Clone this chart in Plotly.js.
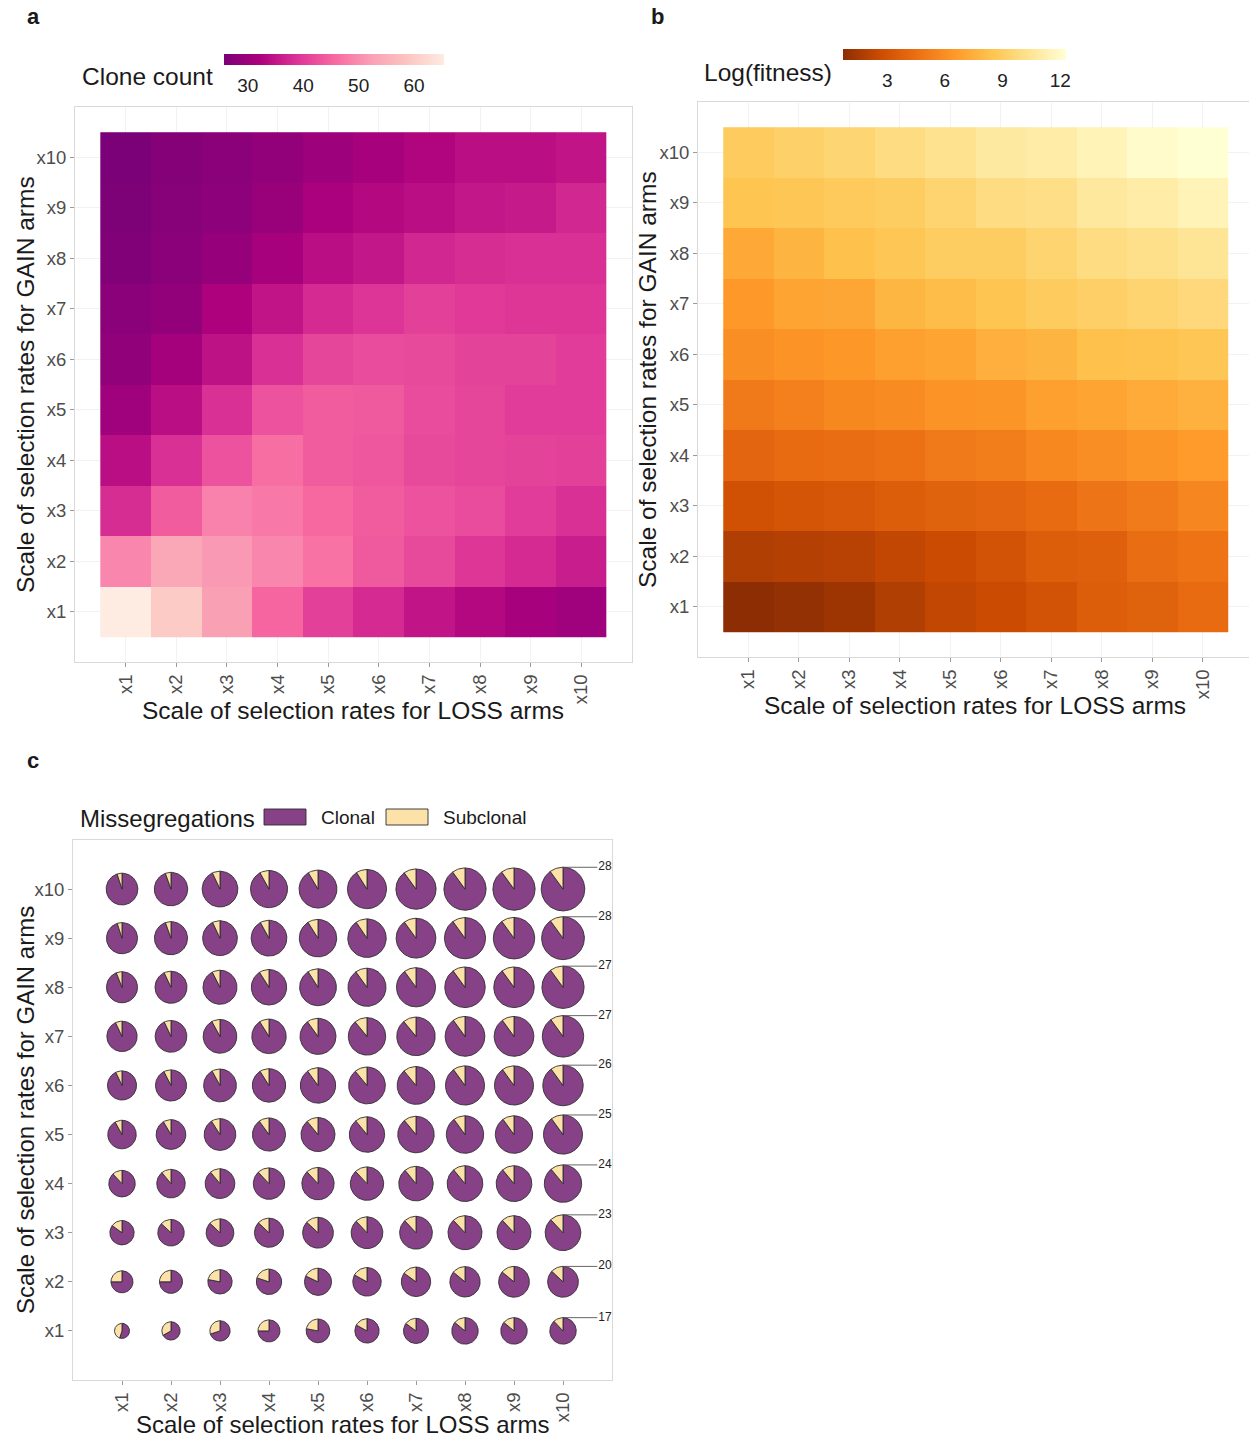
<!DOCTYPE html>
<html><head><meta charset="utf-8">
<script src="https://cdn.plot.ly/plotly-3.0.1.min.js"></script>
<style>html,body{margin:0;padding:0;background:#fff}#chart{width:1249px;height:1439px}</style>
</head><body><div id="chart"></div>
<script>
// ---------------- data ----------------
const scaleLabels = ['x1','x2','x3','x4','x5','x6','x7','x8','x9','x10'];

// rows: GAIN scale x1 (bottom) .. x10 (top); columns: LOSS scale x1 .. x10
const cloneCount = [
  [65.4, 59.8, 52.3, 45.2, 40.4, 37.6, 34.8, 33.2, 31.6, 30.5],
  [49.1, 53.5, 51.5, 49.1, 46.7, 43.6, 41.6, 39.2, 37.6, 36.0],
  [38.0, 44.0, 48.7, 47.5, 45.5, 44.0, 42.8, 42.0, 40.0, 38.4],
  [34.0, 38.4, 42.8, 46.3, 44.0, 43.2, 41.6, 41.2, 40.8, 40.4],
  [30.5, 34.0, 38.4, 42.8, 44.0, 43.6, 42.0, 41.2, 40.0, 40.0],
  [28.5, 31.3, 34.4, 38.4, 41.2, 42.0, 41.6, 40.8, 40.8, 40.0],
  [27.7, 28.9, 32.3, 34.8, 37.6, 38.9, 40.4, 39.6, 39.2, 39.2],
  [26.5, 27.7, 29.3, 31.6, 34.0, 35.2, 37.2, 38.0, 38.4, 38.4],
  [26.1, 27.3, 28.1, 29.7, 32.0, 33.2, 34.0, 35.2, 35.6, 37.2],
  [25.7, 27.0, 27.7, 28.9, 30.1, 31.6, 32.8, 34.0, 34.0, 34.8]
];

const logFitness = [
  [0.7, 0.9, 1.2, 1.8, 2.3, 2.6, 3.0, 3.6, 3.8, 4.3],
  [1.8, 1.9, 2.0, 2.3, 2.6, 3.0, 3.6, 3.7, 4.4, 4.7],
  [2.9, 3.1, 3.3, 3.6, 3.8, 4.0, 4.3, 4.8, 5.1, 5.6],
  [4.0, 4.3, 4.4, 4.6, 5.0, 5.2, 5.7, 6.0, 6.3, 6.6],
  [5.0, 5.3, 5.7, 5.9, 6.2, 6.3, 6.8, 7.0, 7.3, 7.6],
  [6.0, 6.2, 6.4, 6.8, 7.0, 7.5, 7.7, 8.3, 8.4, 8.6],
  [6.5, 7.0, 7.1, 7.8, 8.1, 8.5, 8.9, 9.1, 9.4, 9.7],
  [7.2, 7.7, 8.3, 8.6, 9.0, 9.0, 9.4, 9.9, 10.2, 10.5],
  [8.5, 8.6, 8.8, 9.0, 9.4, 9.9, 10.1, 10.7, 11.0, 11.5],
  [8.9, 9.2, 9.5, 9.9, 10.3, 10.8, 11.0, 11.5, 12.0, 12.3]
];

// total missegregations per pie (pie size)
const missTotal = [
  [9.8, 11.9, 13.2, 14.3, 15.4, 15.8, 16.3, 17.2, 17.2, 17.2],
  [14.3, 15.0, 15.8, 16.5, 17.6, 18.5, 19.1, 19.7, 20.0, 20.0],
  [15.8, 17.2, 18.0, 18.9, 20.0, 20.6, 21.3, 22.1, 22.1, 23.2],
  [17.2, 18.5, 19.3, 20.4, 21.0, 21.7, 22.4, 23.2, 23.2, 24.3],
  [18.5, 19.3, 20.6, 21.5, 22.1, 23.0, 23.7, 24.3, 24.3, 25.4],
  [18.9, 20.2, 21.3, 21.7, 23.0, 23.9, 24.5, 25.4, 25.4, 26.3],
  [19.7, 20.6, 21.9, 22.4, 23.4, 24.3, 25.0, 25.8, 25.8, 26.9],
  [20.2, 20.8, 22.1, 23.0, 23.9, 24.7, 25.4, 26.3, 26.3, 27.4],
  [20.2, 21.5, 22.6, 23.2, 24.3, 25.0, 25.8, 26.7, 26.9, 27.8],
  [20.6, 21.7, 23.2, 24.1, 24.6, 25.4, 26.1, 27.4, 27.4, 28.3]
];

// share of subclonal missegregations in each pie
const subclonalShare = [
  [0.45, 0.33, 0.30, 0.25, 0.22, 0.17, 0.15, 0.14, 0.14, 0.12],
  [0.25, 0.25, 0.22, 0.20, 0.18, 0.17, 0.15, 0.14, 0.14, 0.13],
  [0.15, 0.13, 0.13, 0.13, 0.13, 0.12, 0.12, 0.12, 0.12, 0.12],
  [0.12, 0.11, 0.11, 0.12, 0.12, 0.12, 0.11, 0.11, 0.11, 0.11],
  [0.08, 0.085, 0.09, 0.10, 0.11, 0.11, 0.11, 0.10, 0.10, 0.10],
  [0.07, 0.075, 0.08, 0.09, 0.10, 0.11, 0.11, 0.10, 0.10, 0.10],
  [0.07, 0.07, 0.08, 0.09, 0.10, 0.11, 0.11, 0.10, 0.10, 0.10],
  [0.06, 0.07, 0.075, 0.09, 0.09, 0.10, 0.10, 0.10, 0.10, 0.10],
  [0.05, 0.055, 0.07, 0.08, 0.09, 0.095, 0.10, 0.10, 0.10, 0.10],
  [0.05, 0.055, 0.07, 0.08, 0.085, 0.09, 0.10, 0.10, 0.10, 0.10]
];

// ---------------- styles ----------------
const W = 1249, H = 1439;
const px = v => v / W, py = v => 1 - v / H;
const FONT = 'Liberation Sans, Arial, Helvetica, sans-serif';
const TXT = '#1a1a1a';
const CLONAL = '#864187', SUBCLONAL = '#FCE1A8', PIE_LINE = '#2e2e2e';
const rdpu = [[0,'#7A0177'],[1/6,'#AE017E'],[2/6,'#DD3497'],[3/6,'#F768A1'],[4/6,'#FA9FB5'],[5/6,'#FCC5C0'],[1,'#FEEBE2']];
const ylorbr = [[0,'#8C2D04'],[1/6,'#CC4C02'],[2/6,'#EC7014'],[3/6,'#FE9929'],[4/6,'#FEC44F'],[5/6,'#FEE391'],[1,'#FFFFD4']];
const idx = scaleLabels.map((_, i) => i);
const flat = a => a.reduce((s, r) => s.concat(r), []);

function axis(d0, d1, range, extra) {
  return Object.assign({
    domain: [d0, d1], range: range, tickmode: 'array', tickvals: idx, ticktext: scaleLabels,
    showline: true, mirror: true, linecolor: '#d9d9d9', linewidth: 1,
    ticks: 'outside', ticklen: 4, tickcolor: '#9a9a9a', tickwidth: 1,
    tickfont: {family: FONT, size: 18.5, color: '#4d4d4d'},
    zeroline: false, showgrid: false, fixedrange: true
  }, extra || {});
}

function cbar(cx, top, len, vals) {
  return {
    orientation: 'h', x: px(cx), xanchor: 'center', y: py(top), yanchor: 'top',
    len: len, lenmode: 'pixels', thickness: 11, thicknessmode: 'pixels',
    xpad: 0, ypad: 0, outlinewidth: 0, tickmode: 'array', tickvals: vals,
    ticks: 'outside', ticklen: 5, tickcolor: 'rgba(0,0,0,0)',
    tickfont: {family: FONT, size: 19, color: '#222'}
  };
}

// ---------------- traces ----------------
const data = [];
const zA = flat(cloneCount), zB = flat(logFitness);
data.push({
  type: 'heatmap', x: idx, y: idx, z: cloneCount, xaxis: 'x', yaxis: 'y',
  colorscale: rdpu, zmin: Math.min(...zA), zmax: Math.max(...zA),
  colorbar: cbar(334, 54, 220, [30, 40, 50, 60]), hoverinfo: 'skip'
});
data.push({
  type: 'heatmap', x: idx, y: idx, z: logFitness, xaxis: 'x2', yaxis: 'y2',
  colorscale: ylorbr, zmin: Math.min(...zB), zmax: Math.max(...zB),
  colorbar: cbar(954.5, 49, 223, [3, 6, 9, 12]), hoverinfo: 'skip'
});

// pies in panel c
const K = 0.0157; // radius (axis units) per missegregation
function wedge(xs, ys, cx, cy, r, a0, a1) {
  const n = Math.max(2, Math.ceil((a1 - a0) / 3));
  xs.push(cx); ys.push(cy);
  for (let k = 0; k <= n; k++) {
    const a = (a0 + (a1 - a0) * k / n) * Math.PI / 180;
    xs.push(cx + r * Math.cos(a)); ys.push(cy + r * Math.sin(a));
  }
  xs.push(cx); ys.push(cy);
  xs.push(null); ys.push(null);
}
const cX = [], cY = [], sX = [], sY = [];
missTotal.forEach((row, i) => row.forEach((tot, j) => {
  const r = K * tot, f = subclonalShare[i][j];
  wedge(sX, sY, j, i, r, 90, 90 + 360 * f);
  wedge(cX, cY, j, i, r, 90 + 360 * f, 450);
}));
data.push({type: 'scatter', x: cX, y: cY, xaxis: 'x3', yaxis: 'y3', mode: 'lines', fill: 'toself',
  fillcolor: CLONAL, line: {color: PIE_LINE, width: 0.9}, hoverinfo: 'skip', showlegend: false, name: 'Clonal'});
data.push({type: 'scatter', x: sX, y: sY, xaxis: 'x3', yaxis: 'y3', mode: 'lines', fill: 'toself',
  fillcolor: SUBCLONAL, line: {color: PIE_LINE, width: 0.9}, hoverinfo: 'skip', showlegend: false, name: 'Subclonal'});

// size labels for the last column
const lX = [], lY = [], tX = [], tY = [], tT = [];
const last = scaleLabels.length - 1;
missTotal.forEach((row, i) => {
  const top = i + K * row[last];
  lX.push(last, last + 0.7, null); lY.push(top, top, null);
  tX.push(last + 0.72); tY.push(top); tT.push(String(Math.round(row[last])));
});
data.push({type: 'scatter', x: lX, y: lY, xaxis: 'x3', yaxis: 'y3', mode: 'lines',
  line: {color: '#555', width: 0.9}, hoverinfo: 'skip', showlegend: false});
data.push({type: 'scatter', x: tX, y: tY, xaxis: 'x3', yaxis: 'y3', mode: 'text', text: tT,
  textposition: 'middle right', textfont: {family: FONT, size: 12, color: '#222'},
  hoverinfo: 'skip', showlegend: false, cliponaxis: false});

// ---------------- layout ----------------
function ann(text, x, y, size, extra) {
  return Object.assign({text: text, x: px(x), y: py(y), xref: 'paper', yref: 'paper',
    showarrow: false, xanchor: 'center', yanchor: 'middle',
    font: {family: FONT, size: size, color: TXT}}, extra || {});
}
const titleSize = 24.5;
const annotations = [
  ann('<b>a</b>', 33, 17, 22), ann('<b>b</b>', 657, 17, 22), ann('<b>c</b>', 33, 760, 22),
  ann('Scale of selection rates for LOSS arms', 353, 710, titleSize),
  ann('Scale of selection rates for GAIN arms', 25, 385, titleSize, {textangle: -90}),
  ann('Scale of selection rates for LOSS arms', 975, 705, titleSize),
  ann('Scale of selection rates for GAIN arms', 647, 380, titleSize, {textangle: -90}),
  ann('Scale of selection rates for LOSS arms', 343, 1424, 24),
  ann('Scale of selection rates for GAIN arms', 25, 1110, 24, {textangle: -90}),
  ann('Clone count', 80, 77, titleSize, {xanchor: 'left'}),
  ann('Log(fitness)', 702, 72, titleSize, {xanchor: 'left'}),
  ann('Missegregations', 78, 818, 24, {xanchor: 'left'}),
  ann('Clonal', 319, 817, 19, {xanchor: 'left'}),
  ann('Subclonal', 441, 817, 19, {xanchor: 'left'})
];
const shapes = [
  {type: 'rect', xref: 'paper', yref: 'paper', x0: px(264), x1: px(306), y0: py(825), y1: py(809),
    fillcolor: CLONAL, line: {color: PIE_LINE, width: 0.9}},
  {type: 'rect', xref: 'paper', yref: 'paper', x0: px(386), x1: px(428), y0: py(825), y1: py(809),
    fillcolor: SUBCLONAL, line: {color: PIE_LINE, width: 0.9}}
];

const layout = {
  width: W, height: H, margin: {l: 0, r: 0, t: 0, b: 0},
  paper_bgcolor: '#fff', plot_bgcolor: '#fff', showlegend: false,
  font: {family: FONT, color: TXT},
  xaxis: axis(px(75), px(632), [-1, 10], {anchor: 'y', tickangle: -90, showgrid: true, gridcolor: '#f2f2f2'}),
  yaxis: axis(py(662), py(107), [-1, 10], {anchor: 'x', showgrid: true, gridcolor: '#f2f2f2'}),
  xaxis2: axis(px(698), 1, [-1, 9.917], {anchor: 'y2', tickangle: -90, showgrid: true, gridcolor: '#f2f2f2'}),
  yaxis2: axis(py(657), py(102), [-1, 10], {anchor: 'x2', showgrid: true, gridcolor: '#f2f2f2'}),
  xaxis3: axis(px(73), px(612), [-1, 10], {anchor: 'y3', tickangle: -90}),
  yaxis3: axis(py(1380), py(840), [-1, 10], {anchor: 'x3'}),
  annotations: annotations, shapes: shapes
};

Plotly.newPlot('chart', data, layout, {displayModeBar: false, staticPlot: true});
</script>
</body></html>
